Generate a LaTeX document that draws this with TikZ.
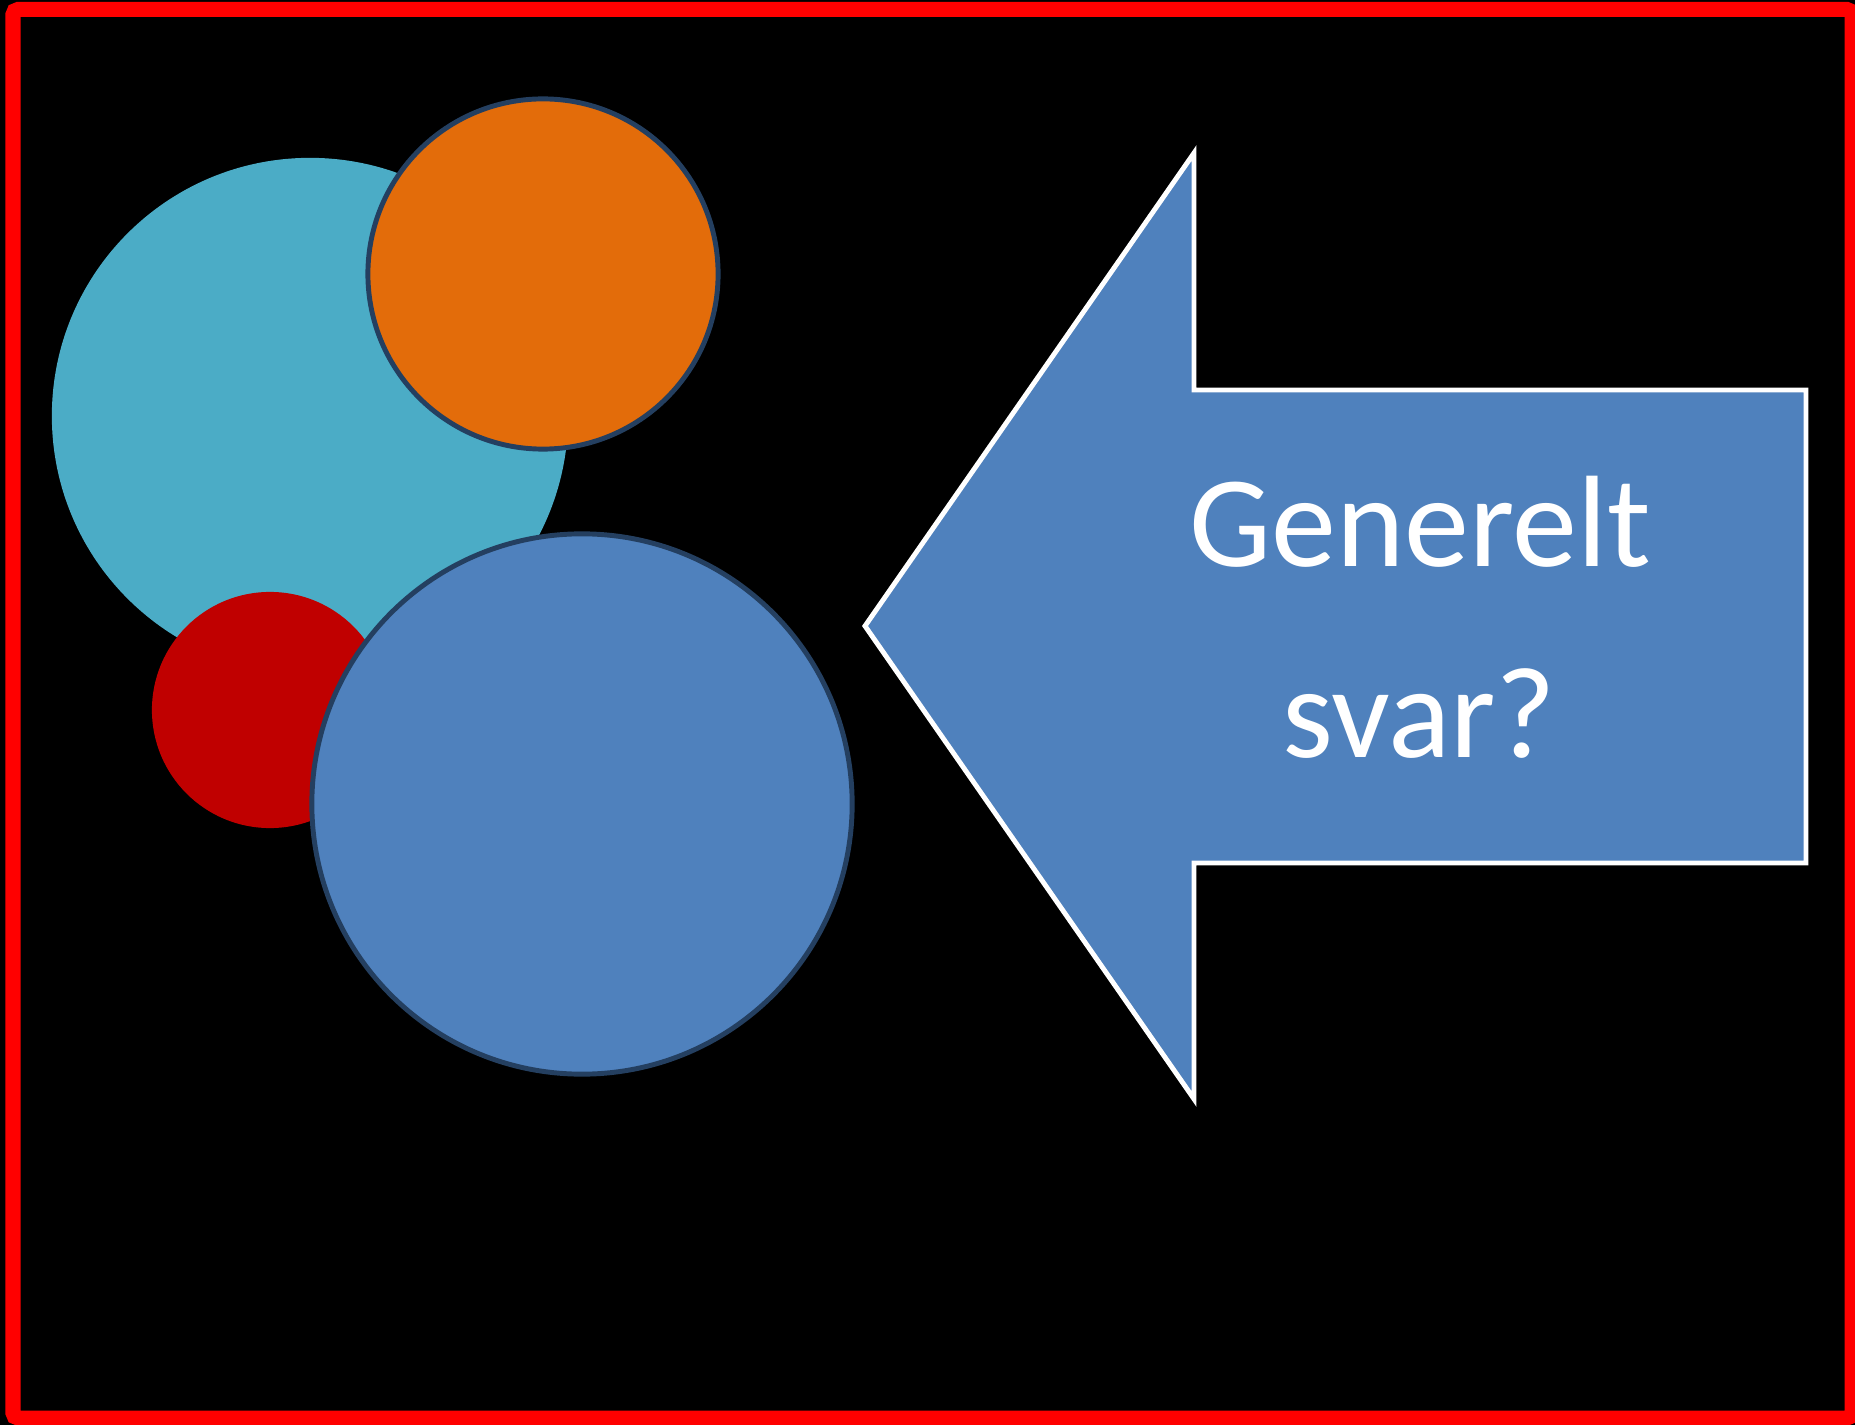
\documentclass[tikz,border=0pt]{standalone}
\usepackage{fontspec}
\setmainfont{Carlito}
\usepackage{tikz}
\usetikzlibrary{positioning}

\definecolor{bgblack}{HTML}{000000}
\definecolor{frame}{HTML}{FF0000}
\definecolor{tealc}{HTML}{4BACC6}
\definecolor{orangec}{HTML}{E36C0A}
\definecolor{redc}{HTML}{C00000}
\definecolor{bluec}{HTML}{4F81BD}
\definecolor{navy}{HTML}{243F60}

\begin{document}
\begin{tikzpicture}[x=0.01cm,y=-0.01cm,
  bubble/.style={circle,inner sep=0pt,outer sep=0pt},
  ringed/.style={bubble,draw=navy,line width=1.4pt},
  arrowbody/.style={fill=bluec,draw=white,line width=1.4pt,line join=miter},
  caption/.style={text=white,anchor=base,inner sep=0pt,
    font=\fontsize{37}{54}\selectfont}]
  % background and frame
  \useasboundingbox (0,0) rectangle (1855,1425);
  \fill[bgblack] (0,0) rectangle (1855,1425);
  \draw[frame,line width=0.15cm,rounded corners=0.05cm] (13,9.5) rectangle (1852,1418);

  % circles
  \node[bubble,fill=tealc,minimum size=5.16cm] (Cteal) at (310,416) {};
  \node[ringed,fill=orangec,minimum size=3.50cm] (Corange) at (543,274) {};
  \node[bubble,fill=redc,minimum size=2.36cm] (Cred) at (270,710) {};
  \node[ringed,fill=bluec,minimum size=5.40cm] (Cblue) at (582,804) {};

  % arrow
  \draw[arrowbody] (865,626) -- (1194,153) -- (1194,390) -- (1806,390)
    -- (1806,863) -- (1194,863) -- (1194,1099) -- cycle;

  \node[caption] (T1) at (1420,567) {Generelt};
  \node[caption] (T2) at (1419,757) {svar?};
\end{tikzpicture}
\end{document}
